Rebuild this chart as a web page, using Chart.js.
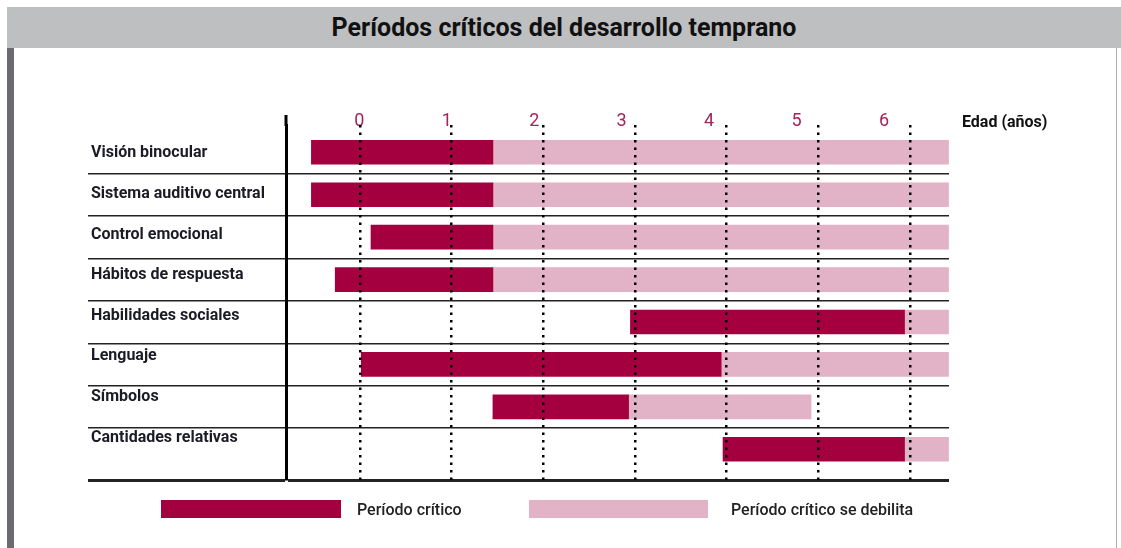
<!DOCTYPE html>
<html><head><meta charset="utf-8">
<script src="https://cdn.jsdelivr.net/npm/chart.js@4.4.1/dist/chart.umd.min.js"></script>
<style>
html,body{margin:0;padding:0;background:#fff;width:1121px;height:548px;overflow:hidden;font-family:Roboto,"Liberation Sans",sans-serif;}
#wrap{position:absolute;left:0;top:0;width:1121px;height:548px;}
#title{position:absolute;left:7px;top:7px;width:1114px;height:41px;background:#bebfc1;color:#111;font:700 25px Roboto,sans-serif;line-height:42px;text-align:center;z-index:2;}
#lbar{position:absolute;left:7px;top:48px;width:7px;height:500px;background:#6d6b72;z-index:2;}
#rbar{position:absolute;left:1116px;top:48px;width:1px;height:500px;background:#b0b0b0;z-index:2;}
.sw{position:absolute;top:500px;height:18px;z-index:2;}
.lt{position:absolute;top:500px;font:500 16px Roboto,sans-serif;color:#222;z-index:2;white-space:nowrap;}
</style>
</head><body>
<div id="title">Períodos críticos del desarrollo temprano</div>
<div id="lbar"></div><div id="rbar"></div>
<div id="wrap"><canvas id="c" width="1121" height="548"></canvas></div>
<div class="sw" id="sw1" style="left:161px;width:180px;"></div>
<div class="lt" id="lt1" style="left:357px;"></div>
<div class="sw" id="sw2" style="left:529px;width:179px;"></div>
<div class="lt" id="lt2" style="left:731px;"></div>
<script>
const CATEGORIES = ["Visión binocular","Sistema auditivo central","Control emocional","Hábitos de respuesta","Habilidades sociales","Lenguaje","Símbolos","Cantidades relativas"];
const CRITICAL_START = [-0.53,-0.53,0.12,-0.27,2.95,0,1.45,3.96];
const CRITICAL_END   = [1.45,1.45,1.45,1.45,5.94,3.94,2.93,5.94];
const WEAKENING_END  = [6.42,6.42,6.42,6.42,6.42,6.42,4.92,6.42];
const AGE_TICKS = [0,1,2,3,4,5,6];
const SERIES_NAMES = ["Período crítico","Período crítico se debilita"];
const AXIS_TITLE = "Edad (años)";

const DARK = '#a4003f';
const PINK = '#e2b2c6';
const FONT = 'Roboto, "Liberation Sans", sans-serif';

document.getElementById('sw1').style.background = DARK;
document.getElementById('sw2').style.background = PINK;
document.getElementById('lt1').textContent = SERIES_NAMES[0];
document.getElementById('lt2').textContent = SERIES_NAMES[1];

const extrasPlugin = {
  id: 'extras',
  afterDraw(chart) {
    const {ctx, chartArea} = chart;
    const ys = chart.scales.y;
    ctx.save();
    // extend the vertical axis line a little above the plot area
    ctx.fillStyle = '#000';
    ctx.fillRect(ys.right - 1.5, chartArea.top - 10, 3, 11);
    // axis title on the right of the age labels
    ctx.font = 'bold 16px ' + FONT;
    ctx.fillStyle = '#111';
    ctx.textBaseline = 'middle';
    ctx.textAlign = 'left';
    ctx.fillText(AXIS_TITLE, chartArea.right + 13, chartArea.top - 2);
    ctx.restore();
  }
};

new Chart(document.getElementById('c'), {
  type: 'bar',
  data: {
    datasets: [
      { label: SERIES_NAMES[0], backgroundColor: DARK, xAxisID: 'x', yAxisID: 'y',
        data: CATEGORIES.map((_, i) => ({ y: i, x: [CRITICAL_START[i], CRITICAL_END[i]] })) },
      { label: SERIES_NAMES[1], backgroundColor: PINK, xAxisID: 'x', yAxisID: 'y',
        data: CATEGORIES.map((_, i) => ({ y: i, x: [CRITICAL_END[i], WEAKENING_END[i]] })) }
    ]
  },
  options: {
    indexAxis: 'y',
    responsive: false,
    animation: false,
    events: [],
    layout: { padding: { left: 91, right: 172, top: 125, bottom: 68 } },
    datasets: { bar: { barThickness: 24, grouped: false, borderWidth: 0 } },
    plugins: { legend: { display: false }, tooltip: { enabled: false }, title: { display: false } },
    scales: {
      x: {
        type: 'linear', position: 'top', min: -0.807, max: 6.425, weight: 0, offset: false,
        afterBuildTicks: s => { s.ticks = AGE_TICKS.map(v => ({ value: v })); },
        afterFit: s => { s.height = 0; },
        ticks: { display: false },
        grid: { color: '#000', lineWidth: 2.5, drawTicks: false, z: 1, offset: false },
        border: { display: false, dash: [2.5, 5] }
      },
      xLab: {
        type: 'linear', position: 'top', min: -0.838, max: 6.743, weight: 1, offset: false,
        afterBuildTicks: s => { s.ticks = AGE_TICKS.map(v => ({ value: v })); },
        afterFit: s => { s.height = 0; },
        grid: { display: false, drawTicks: false, offset: false },
        border: { display: false },
        ticks: { color: '#a3245a', font: { size: 18, family: FONT }, padding: -14, mirror: true,
                 autoSkip: false, maxRotation: 0, minRotation: 0, callback: v => String(v) }
      },
      y: {
        type: 'linear', position: 'left', reverse: true, min: -0.643, max: 7.724, weight: 0,
        offset: false,
        afterBuildTicks: s => {
          s.ticks = CATEGORIES.slice(1).map((_, i) => ({ value: i + 0.5 })).concat([{ value: s.max }]);
        },
        afterFit: s => { s.width = 0; },
        ticks: { display: false },
        grid: {
          color: '#222', offset: false,
          lineWidth: c => (c.tick && c.tick.value > 7) ? 3 : 1.4,
          tickLength: 198, drawTicks: true
        },
        border: { display: true, color: '#000', width: 3 }
      },
      yLab: {
        type: 'linear', position: 'left', reverse: true, min: -0.697, max: 8.04, weight: 1,
        offset: false,
        afterBuildTicks: s => { s.ticks = CATEGORIES.map((_, i) => ({ value: i })); },
        afterFit: s => { s.width = 195; },
        grid: { display: false, drawTicks: false, offset: false },
        border: { display: false },
        ticks: { crossAlign: 'far', color: '#1b1b26', autoSkip: false,
                 font: { size: 16, weight: 'bold', family: FONT },
                 callback: v => CATEGORIES[v] }
      }
    }
  },
  plugins: [extrasPlugin]
});
</script>
</body></html>
